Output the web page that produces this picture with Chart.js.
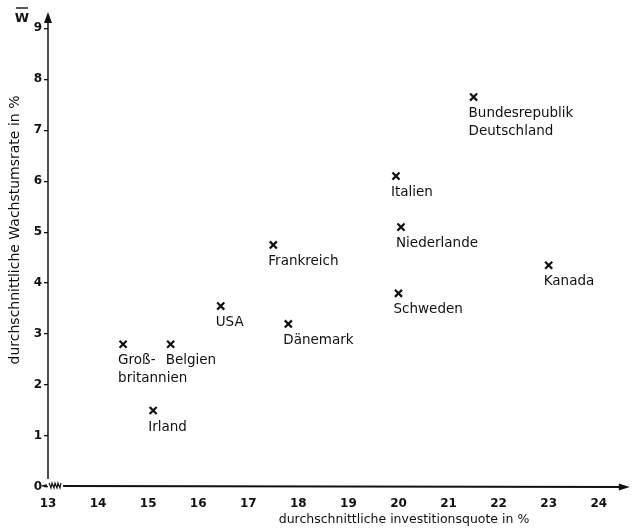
<!DOCTYPE html>
<html>
<head>
<meta charset="utf-8">
<script src="https://cdn.jsdelivr.net/npm/chart.js@4"></script>
<style>
  html, body { margin: 0; padding: 0; background: #fff; }
  #wrap { width: 636px; height: 529px; }
</style>
</head>
<body>
<div id="wrap"><canvas id="chart" width="636" height="529"></canvas></div>
<script>
// Länder, Investitionsquote (x) und Wachstumsrate (y)
const countries = ['Großbritannien', 'Belgien', 'Irland', 'USA', 'Dänemark', 'Frankreich',
  'Italien', 'Niederlande', 'Schweden', 'Bundesrepublik Deutschland', 'Kanada']
const labelLines = [['Groß-', 'britannien'], ['Belgien'], ['Irland'], ['USA'], ['Dänemark'],
  ['Frankreich'], ['Italien'], ['Niederlande'], ['Schweden'], ['Bundesrepublik', 'Deutschland'], ['Kanada']]
const investQuote = [14.5, 15.45, 15.1, 16.45, 17.8, 17.5, 19.95, 20.05, 20.0, 21.5, 23.0]
const growthRate = [2.8, 2.8, 1.5, 3.55, 3.2, 4.75, 6.1, 5.1, 3.8, 7.65, 4.35]

const xTicks = [13, 14, 15, 16, 17, 18, 19, 20, 21, 22, 23, 24]
const yTicks = [0, 1, 2, 3, 4, 5, 6, 7, 8, 9]

const xTitle = 'durchschnittliche investitionsquote in %'
const yTitle = 'durchschnittliche Wachstumsrate in %'

const INK = '#111'
const FONT = 'DejaVu Sans, sans-serif'

const axesPlugin = {
  id: 'axesPlugin',
  afterDraw(chart) {
    const { ctx, chartArea: a, scales } = chart
    const x0 = a.left, y0 = a.bottom
    ctx.save()
    ctx.strokeStyle = INK
    ctx.fillStyle = INK
    ctx.lineWidth = 1.5

    // y-Achse mit Pfeil
    ctx.beginPath()
    ctx.moveTo(x0, y0 - 8)
    ctx.lineTo(x0, a.top + 6)
    ctx.stroke()
    ctx.beginPath()
    ctx.moveTo(x0, a.top - 1)
    ctx.lineTo(x0 - 4, a.top + 10)
    ctx.lineTo(x0 + 4, a.top + 10)
    ctx.closePath()
    ctx.fill()

    // x-Achse mit Bruchstelle und Pfeil
    ctx.beginPath()
    ctx.moveTo(x0 - 6, y0 - 1)
    ctx.lineTo(x0 - 1, y0 - 2)
    ctx.stroke()
    ctx.lineWidth = 1.2
    ctx.beginPath()
    let zx = x0 + 1
    ctx.moveTo(zx, y0 - 4)
    for (let i = 0; i < 4; i++) {
      ctx.lineTo(zx + 2, y0 + 1)
      ctx.lineTo(zx + 3, y0 - 4)
      zx += 3
    }
    ctx.stroke()
    ctx.lineWidth = 1.8
    ctx.beginPath()
    ctx.moveTo(x0 + 15, y0 - 1)
    ctx.lineTo(a.right - 6, y0)
    ctx.stroke()
    ctx.beginPath()
    ctx.moveTo(a.right + 1, y0)
    ctx.lineTo(a.right - 10, y0 - 3.5)
    ctx.lineTo(a.right - 10, y0 + 3.5)
    ctx.closePath()
    ctx.fill()

    // W mit Querstrich
    ctx.font = 'bold 13px ' + FONT
    ctx.textAlign = 'center'
    ctx.textBaseline = 'alphabetic'
    ctx.fillText('W', 22, 22)
    ctx.lineWidth = 1.4
    ctx.beginPath()
    ctx.moveTo(16, 8)
    ctx.lineTo(28, 8)
    ctx.stroke()

    // Punktbeschriftungen
    ctx.font = '13.5px ' + FONT
    ctx.textAlign = 'left'
    labelLines.forEach((lines, i) => {
      const px = scales.x.getPixelForValue(investQuote[i])
      const py = scales.y.getPixelForValue(growthRate[i])
      lines.forEach((t, j) => ctx.fillText(t, px - 5, py + 20 + j * 18))
    })

    // Achsentitel
    ctx.font = '12.5px ' + FONT
    ctx.textAlign = 'center'
    ctx.fillText(xTitle, 404, 523)
    ctx.save()
    ctx.translate(19, 230)
    ctx.rotate(-Math.PI / 2)
    ctx.font = '14px ' + FONT
    ctx.fillText(yTitle, 0, 0)
    ctx.restore()

    ctx.restore()
  },
}

const ctx = document.getElementById('chart').getContext('2d')
new Chart(ctx, {
  type: 'scatter',
  data: {
    datasets: [{
      label: 'Länder',
      data: investQuote.map((v, i) => ({ x: v, y: growthRate[i] })),
      pointStyle: 'crossRot',
      pointRadius: 5,
      pointHoverRadius: 5,
      borderColor: INK,
      backgroundColor: INK,
      borderWidth: 2.2,
    }],
  },
  options: {
    responsive: false,
    animation: false,
    layout: { padding: { top: 13, right: 7, left: 0, bottom: 0 } },
    plugins: {
      legend: { display: false },
      tooltip: { enabled: false },
    },
    scales: {
      x: {
        type: 'linear',
        min: 13,
        max: 24.6,
        afterBuildTicks: (s) => { s.ticks = xTicks.map(v => ({ value: v })) },
        afterFit: (s) => { s.height = 42 },
        grid: { display: false },
        border: { display: false },
        ticks: {
          color: INK,
          padding: 2,
          maxRotation: 0,
          autoSkip: false,
          font: { family: FONT, size: 12, weight: 'bold' },
        },
      },
      y: {
        type: 'linear',
        min: 0,
        max: 9.3,
        afterBuildTicks: (s) => { s.ticks = yTicks.map(v => ({ value: v })) },
        afterFit: (s) => { s.width = 48 },
        grid: { drawOnChartArea: false, drawTicks: true, tickLength: 4, color: INK, lineWidth: 1.3 },
        border: { display: false },
        ticks: {
          color: INK,
          padding: 2,
          autoSkip: false,
          font: { family: FONT, size: 12, weight: 'bold' },
        },
      },
    },
  },
  plugins: [axesPlugin],
})
</script>
</body>
</html>
